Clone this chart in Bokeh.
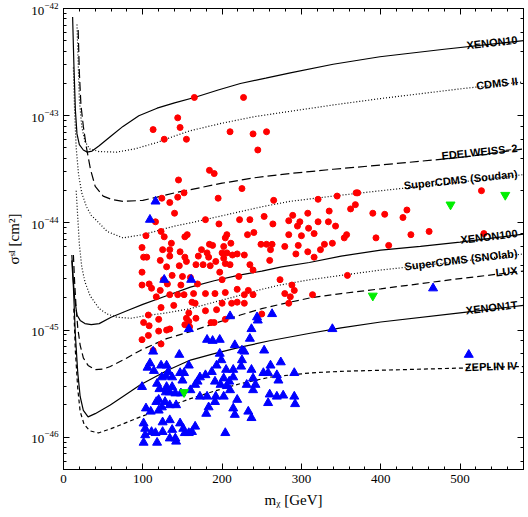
import numpy as np
from bokeh.plotting import figure
from bokeh.models import LinearAxis, LogAxis, Label, CustomJSTickFormatter, Range1d
from bokeh.embed import file_html
from bokeh.resources import INLINE

# ---------------- data (mass in GeV, cross-section given as log10(sigma / cm^2)) -------------
xenon10_m = [11.5, 13, 15, 17, 20, 25, 30, 36, 45, 60, 75, 95, 118, 140, 165, 195, 223, 255,
             286, 340, 399, 480, 580]
xenon10_log = [-42.08, -42.5, -42.95, -43.17, -43.27, -43.32, -43.34, -43.33, -43.28, -43.19,
               -43.10, -43.00, -42.93, -42.88, -42.83, -42.76, -42.70, -42.65, -42.60, -42.52,
               -42.45, -42.38, -42.30]

cdms2_m = [17, 18.5, 20, 23, 27, 33, 45, 67, 90, 118, 140, 160, 200, 240, 285, 340, 400, 500, 580]
cdms2_log = [-42.15, -42.5, -42.85, -43.1, -43.24, -43.31, -43.335, -43.34, -43.31, -43.25,
             -43.19, -43.14, -43.07, -43.01, -42.96, -42.90, -42.84, -42.75, -42.685]

edelweiss_m = [18.5, 20, 22, 25, 29, 34, 40, 50, 60, 75, 100, 118, 140, 160, 200, 240, 285,
               340, 400, 500, 580]
edelweiss_log = [-42.2, -42.6, -42.9, -43.1, -43.3, -43.5, -43.66, -43.75, -43.78, -43.80,
                 -43.79, -43.76, -43.72, -43.69, -43.63, -43.58, -43.54, -43.50, -43.46,
                 -43.39, -43.31]

soudan_m = [12.5, 14, 16, 19, 23, 29, 35, 42, 55, 75, 100, 120, 140, 160, 190, 220, 250, 285,
            340, 400, 500, 580]
soudan_log = [-42.55, -42.95, -43.3, -43.55, -43.72, -43.85, -43.93, -43.98, -44.08, -44.14,
              -44.11, -44.07, -44.03, -44.0, -43.95, -43.9, -43.85, -43.80, -43.75, -43.70,
              -43.62, -43.55]

xenon100_m = [10.5, 12.5, 14, 17, 21, 27, 35, 45, 60, 80, 100, 130, 160, 190, 220, 250, 275, 310,
              350, 400, 450, 500, 580]
xenon100_log = [-44.3, -44.55, -44.7, -44.86, -44.91, -44.94, -44.95, -44.94, -44.88, -44.82,
                -44.76, -44.68, -44.60, -44.54, -44.49, -44.45, -44.41, -44.37, -44.31, -44.255,
                -44.22, -44.18, -44.105]

snolab_m = [16, 18, 20, 23, 27, 33.5, 45, 55, 67, 85, 100, 130, 160, 190, 223, 250, 273, 311,
            350, 400, 500, 580]
snolab_log = [-43.7, -43.95, -44.2, -44.41, -44.55, -44.68, -44.8, -44.85, -44.88, -44.89,
              -44.87, -44.84, -44.80, -44.74, -44.675, -44.62, -44.58, -44.53, -44.49, -44.44,
              -44.36, -44.29]

lux_m = [12.5, 14, 16, 18, 21, 25, 31, 40, 50, 59, 75, 97, 130, 160, 190, 223, 250, 273, 311,
         350, 400, 500, 580]
lux_log = [-44.3, -44.55, -44.8, -44.98, -45.14, -45.26, -45.33, -45.37, -45.365, -45.34,
           -45.28, -45.19, -45.08, -45.015, -44.94, -44.86, -44.80, -44.76, -44.70, -44.66,
           -44.615, -44.52, -44.45]

xenon1t_m = [10.5, 12.5, 15, 18, 21, 25, 31, 40, 59, 75, 97, 130, 160, 190, 223, 260, 311, 350,
             400, 500, 580]
xenon1t_log = [-44.35, -44.6, -45.05, -45.4, -45.62, -45.75, -45.81, -45.78, -45.70, -45.62,
               -45.51, -45.38, -45.28, -45.22, -45.16, -45.10, -45.03, -44.98, -44.925, -44.84,
               -44.77]

zeplin_m = [13, 15, 18, 21, 26, 33, 44, 60, 97, 130, 160, 190, 223, 260, 311, 350, 400, 500, 580]
zeplin_log = [-44.8, -45.2, -45.55, -45.76, -45.88, -45.94, -45.96, -45.92, -45.81, -45.72,
              -45.64, -45.57, -45.50, -45.44, -45.40, -45.385, -45.375, -45.355, -45.34]

red_m = [165, 227, 144, 113, 147, 127, 155, 210, 239, 256, 245, 184, 190, 145, 225, 195, 152, 124,
         134, 144, 265, 140, 116, 179, 196, 222, 235, 253, 264, 284, 123, 127, 104, 153, 156, 206,
         204, 232, 240, 284, 99, 136, 125, 134, 147, 184, 188, 202, 211, 219, 228, 249, 256, 263,
         261, 174, 181, 101, 105, 200, 206, 213,
         99, 122, 130, 134, 153, 155, 146, 150, 167, 176, 170, 183, 185, 192, 202, 210, 204, 239,
         235, 260, 293, 197, 221, 200, 137, 131, 148, 160, 169, 99, 108, 111, 126, 122, 117, 134,
         144, 152, 164, 179, 191, 204, 219, 233, 228, 239, 279, 288, 286, 284, 162, 166, 200, 212,
         219, 228, 193, 179, 158, 123, 139, 107, 120, 155, 158, 167, 101, 108, 120, 130, 134, 153,
         159, 186, 190, 204, 250, 99, 107, 123, 113,
         369, 371, 345, 321, 368, 362, 335, 308, 289, 390, 405, 433, 428, 527, 298, 321, 334, 295,
         309, 343, 316, 300, 357, 354, 394, 438, 461, 530, 279, 296, 329, 339, 410, 308, 324, 316,
         358, 273, 291, 314]
red_log = [-42.83, -42.83, -43.02, -43.13, -43.11, -43.22, -43.22, -43.15, -43.17, -43.15, -43.32,
           -43.51, -43.54, -43.60, -43.68, -43.77, -43.72, -43.77, -43.81, -43.76, -43.79, -43.91,
           -43.99, -43.97, -44.01, -43.97, -43.97, -43.94, -44.01, -43.98, -44.08, -44.13, -44.12,
           -44.13, -44.11, -44.11, -44.14, -44.11, -44.09, -44.11, -44.23, -44.19, -44.25, -44.25,
           -44.27, -44.20, -44.21, -44.22, -44.19, -44.29, -44.30, -44.20, -44.20, -44.20, -44.25,
           -44.25, -44.28, -44.32, -44.32, -44.28, -44.28, -44.30,
           -44.46, -44.35, -44.41, -44.31, -44.32, -44.36, -44.40, -44.50, -44.39, -44.39, -44.31,
           -44.32, -44.40, -44.36, -44.33, -44.39, -44.38, -44.44, -44.39, -44.35, -44.29, -44.46,
           -44.50, -44.53, -44.49, -44.57, -44.58, -44.51, -44.57, -44.58, -44.57, -44.61, -44.53,
           -44.63, -44.69, -44.67, -44.67, -44.67, -44.66, -44.66, -44.66, -44.65, -44.62, -44.63,
           -44.67, -44.67, -44.66, -44.58, -44.69, -44.75, -44.74, -44.75, -44.75, -44.75, -44.74,
           -44.75, -44.81, -44.82, -44.84, -44.79, -44.77, -44.86, -44.90, -44.89, -44.92, -44.89,
           -44.93, -44.96, -45.01, -45.00, -44.99, -44.95, -44.97, -44.93, -44.93, -44.90, -44.85,
           -45.09, -45.05, -45.13, -45.19,
           -43.72, -43.72, -43.75, -43.78, -43.83, -43.87, -43.89, -43.91, -43.93, -43.91, -43.92,
           -43.88, -43.95, -43.70, -43.99, -43.99, -43.99, -44.03, -44.05, -44.03, -44.10, -44.12,
           -44.11, -44.14, -44.14, -44.11, -44.08, -44.10, -44.22, -44.21, -44.20, -44.19, -44.21,
           -44.27, -44.25, -44.32, -44.49, -44.53, -44.63, -44.67]

blue_m = [127, 161, 158, 210, 244, 263, 245, 237, 235, 181, 188, 197, 216, 225, 228, 253, 197, 146,
          113, 109, 106, 123, 130, 114, 132, 158, 193, 199, 225, 224, 205, 214, 237, 252, 261, 258,
          274, 269, 291, 271, 124, 129, 137, 147, 152, 150, 172, 179, 187, 169, 166, 191, 198, 206,
          209, 202, 214, 210, 239, 231, 242, 239, 118, 99, 121, 130, 137, 129, 134, 141, 148, 160,
          172, 181, 192, 202, 191, 219, 120, 117, 128, 142, 134, 104, 110, 120, 124, 180, 183, 214,
          216, 233, 237, 260, 269, 277, 258, 291, 292, 101, 103, 103, 101, 116, 118, 125, 125, 134,
          137, 147, 141, 142, 151, 153, 158, 166, 162, 204, 134, 111, 116, 109, 466, 511, 339]
blue_log = [-44.53, -44.53, -44.99, -44.87, -44.88, -44.85, -44.91, -44.99, -45.08, -45.09, -45.10,
            -45.09, -45.14, -45.19, -45.20, -45.19, -45.22, -45.23, -45.20, -45.31, -45.35, -45.33,
            -45.33, -45.38, -45.39, -45.33, -45.33, -45.28, -45.28, -45.34, -45.37, -45.37, -45.37,
            -45.40, -45.33, -45.40, -45.30, -45.42, -45.40, -45.47, -45.44, -45.43, -45.44, -45.40,
            -45.40, -45.47, -45.44, -45.42, -45.39, -45.48, -45.51, -45.48, -45.51, -45.52, -45.48,
            -45.45, -45.44, -45.56, -45.45, -45.51, -45.51, -45.56, -45.50, -45.53, -45.55, -45.53,
            -45.53, -45.58, -45.58, -45.59, -45.59, -45.56, -45.62, -45.62, -45.62, -45.62, -45.67,
            -45.65, -45.65, -45.67, -45.67, -45.70, -45.70, -45.73, -45.76, -45.75, -45.72, -45.78,
            -45.72, -45.73, -45.79, -45.76, -45.82, -45.60, -45.62, -45.61, -45.68, -45.62, -45.69,
            -45.87, -45.92, -45.98, -46.05, -45.96, -46.05, -45.86, -45.95, -45.84, -45.93, -45.87,
            -46.01, -46.04, -45.92, -45.96, -45.96, -45.90, -45.95, -45.96, -46.01, -45.95, -43.80,
            -43.97, -44.61, -45.23, -44.99]

green_m = [152, 390, 488, 557]
green_log = [-45.58, -44.68, -43.83, -43.74]

x_start, x_end = 0, 580
y_start, y_end = 5.0e-47, 1e-42


def sig(lst):
    return 10.0 ** np.array(lst)


# ---------------- figure ----------------
SERIF = "Liberation Serif"
p = figure(width=528, height=517, x_range=Range1d(x_start, x_end),
           y_range=Range1d(y_start, y_end), y_axis_type="log",
           output_backend="svg", toolbar_location=None,
           min_border_left=63, min_border_right=5, min_border_top=8, min_border_bottom=48)
p.xgrid.visible = False
p.ygrid.visible = False
p.outline_line_color = "black"
p.outline_line_width = 1
p.background_fill_color = "white"
p.border_fill_color = "white"


def style_axis(ax):
    ax.axis_line_color = "black"
    ax.major_tick_in = 6
    ax.major_tick_out = 0
    ax.minor_tick_in = 3
    ax.minor_tick_out = 0
    ax.major_tick_line_color = "black"
    ax.minor_tick_line_color = "black"
    ax.major_label_text_font = SERIF
    ax.major_label_text_font_size = "13px"
    ax.major_label_text_color = "black"
    ax.axis_label_text_font = SERIF
    ax.axis_label_text_font_size = "15px"
    ax.axis_label_text_font_style = "normal"
    ax.axis_label_text_color = "black"


for ax in p.xaxis + p.yaxis:
    style_axis(ax)
p.xaxis.axis_label = "mᵪ [GeV]"
p.yaxis.axis_label = "σˢᴵ [cm²]"
p.xaxis.axis_label_standoff = 6
p.yaxis.axis_label_standoff = 6
p.xaxis.major_label_standoff = 5
p.yaxis.major_label_standoff = 5

blank = CustomJSTickFormatter(code="return ''")
top = LinearAxis(formatter=blank, major_label_standoff=0)
right = LogAxis(formatter=blank, major_label_standoff=0)
for ax in (top, right):
    style_axis(ax)
    ax.major_label_text_font_size = "1px"
p.add_layout(top, "above")
p.add_layout(right, "right")

# ---------------- curves ----------------
curves = [
    (xenon10_m, xenon10_log, "solid", "XENON10", 6.4),
    (cdms2_m, cdms2_log, "1 2", "CDMS II", 6.6),
    (edelweiss_m, edelweiss_log, "9 4", "EDELWEISS–2", 5.9),
    (soudan_m, soudan_log, "1 2", "SuperCDMS (Soudan)", 6.0),
    (xenon100_m, xenon100_log, "solid", "XENON100", 6.7),
    (snolab_m, snolab_log, "1 2", "SuperCDMS (SNOlab)", 6.8),
    (lux_m, lux_log, "7 4", "LUX", 6.4),
    (xenon1t_m, xenon1t_log, "solid", "XENON1T", 6.7),
    (zeplin_m, zeplin_log, "4 3", "ZEPLIN IV", 2.0),
]
for xs, ls, dash, name, ang in curves:
    p.line(xs, sig(ls), line_color="black", line_width=1.2, line_dash=dash)
    p.add_layout(Label(x=xs[-1], y=10.0 ** ls[-1], text=name, angle=ang, angle_units="deg",
                       text_align="right", text_baseline="alphabetic", x_offset=-6, y_offset=1,
                       text_font="Liberation Sans", text_font_style="bold",
                       text_font_size="11px", text_color="black"))

# ---------------- points ----------------
p.scatter(red_m, sig(red_log), marker="circle", size=6, fill_color="#ff0000", line_color="#ff0000")
p.scatter(blue_m, sig(blue_log), marker="triangle", size=9, fill_color="#0000ff", line_color="#0000ff")
p.scatter(green_m, sig(green_log), marker="inverted_triangle", size=9,
          fill_color="#00ee00", line_color="#00ee00")

open("out.html", "w").write(file_html(p, INLINE))
